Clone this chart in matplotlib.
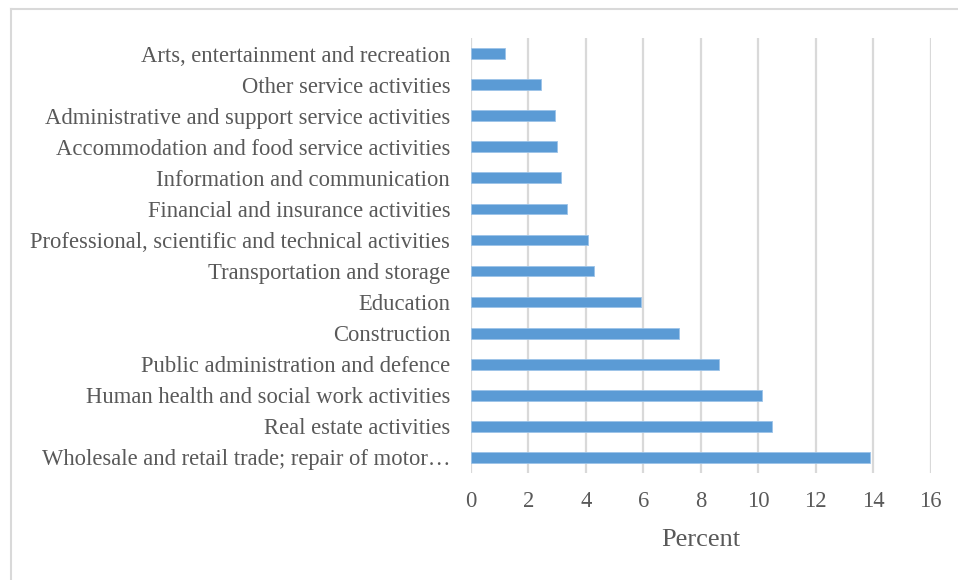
import matplotlib
matplotlib.use("Agg")
import matplotlib.pyplot as plt
from matplotlib.lines import Line2D

categories = [
    "Wholesale and retail trade; repair of motor…",
    "Real estate activities",
    "Human health and social work activities",
    "Public administration and defence",
    "Construction",
    "Education",
    "Transportation and storage",
    "Professional, scientific and technical activities",
    "Financial and insurance activities",
    "Information and communication",
    "Accommodation and food service activities",
    "Administrative and support service activities",
    "Other service activities",
    "Arts, entertainment and recreation",
]
percent = [13.91, 10.48, 10.14, 8.63, 7.24, 5.91, 4.27, 4.06, 3.33, 3.13, 3.01, 2.93, 2.45, 1.17]
x_ticks = [0, 2, 4, 6, 8, 10, 12, 14, 16]

plt.rcParams["font.family"] = ["Liberation Serif", "DejaVu Serif"]
text_color = "#595959"

W, H = 958, 580
fig = plt.figure(figsize=(W / 100, H / 100), dpi=100)
fig.patch.set_facecolor("white")

left, right, top, bottom = 471, 930.5, 38, 473
ax = fig.add_axes([left / W, 1 - bottom / H, (right - left) / W, (bottom - top) / H])

ypos = list(range(len(categories)))
ax.barh(ypos, percent, height=0.345, color="#5b9bd5", edgecolor="#9cc3e8",
        linewidth=0.6, zorder=3)

ax.set_xlim(0, 16)
ax.set_ylim(-0.5, len(categories) - 0.5)
ax.set_xticks(x_ticks)
ax.set_xticklabels([str(t) for t in x_ticks])
ax.set_yticks(ypos)
ax.set_yticklabels(categories)

ax.grid(axis="x", color="#d9d9d9", linewidth=1.6, zorder=0)
ax.set_axisbelow(True)
for s in ax.spines.values():
    s.set_visible(False)
ax.tick_params(axis="both", length=0, colors=text_color, labelsize=16.3)
ax.tick_params(axis="y", pad=15)
ax.tick_params(axis="x", pad=13)

ax.set_xlabel("Percent", fontsize=19, color=text_color, labelpad=12)

# chart frame (top and left edges visible)
fig.add_artist(Line2D([11 / W, 11 / W], [0, 1 - 9 / H], transform=fig.transFigure,
                      color="#d9d9d9", linewidth=1.5))
fig.add_artist(Line2D([11 / W, 1], [1 - 9 / H, 1 - 9 / H], transform=fig.transFigure,
                      color="#d9d9d9", linewidth=1.5))

fig.savefig("out.png", dpi=100, facecolor="white")
